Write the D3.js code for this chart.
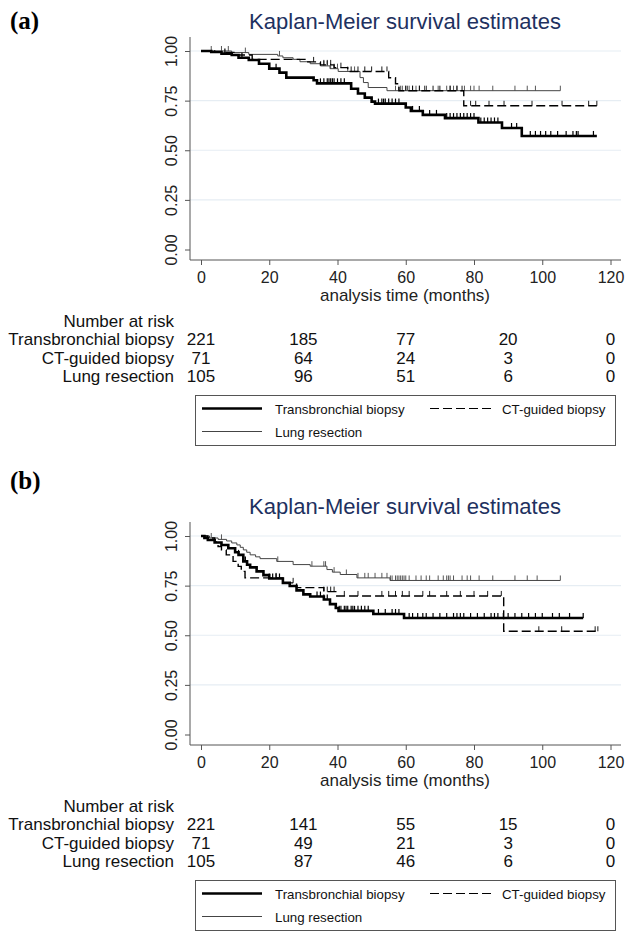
<!DOCTYPE html>
<html>
<head>
<meta charset="utf-8">
<script src="https://cdn.jsdelivr.net/npm/d3@7"></script>
<style>
  html, body { margin: 0; padding: 0; background: #fff; }
  svg { display: block; }
  text { font-family: "Liberation Sans", Arial, sans-serif; }
</style>
</head>
<body>
<script>
// ---------------- DATA ----------------
const groups = ["Transbronchial biopsy", "CT-guided biopsy", "Lung resection"];
const panelLabels = ["(a)", "(b)"];
const titleText = "Kaplan-Meier survival estimates";
const xTicks = [0, 20, 40, 60, 80, 100, 120];
const yTicks = [0, 0.25, 0.5, 0.75, 1.0];
const riskTimes = [0, 30, 60, 90, 120];

// Panel (a) step functions: [time, survival after that time]
const aTBSteps = [[0,1],[3,0.995],[6,0.987],[9,0.98],[11,0.966],[14,0.955],[17,0.936],[20,0.911],[23,0.891],[25,0.866],[33,0.853],[34,0.837],[44,0.81],[46,0.786],[48,0.765],[50,0.745],[51,0.735],[60,0.715],[61.5,0.698],[65,0.678],[71.5,0.662],[81.3,0.64],[88.2,0.612],[94,0.572]];
const aTBEnd = 116;
const aTBCensor = [7,12,22,35,36,37,37.5,38,38.5,39,40,41,42,52,53,53.5,54,55,56,57,58,62,64,67,69,72,73,74,75,76,77,78,79,80,82,83,84,85,86,87,91,92.5,96.5,98,99.5,101,102.5,104.5,107,109,110,110.5,115];

const aCTSteps = [[0,1],[4,0.993],[10,0.98],[15,0.958],[31,0.945],[35,0.93],[39,0.916],[43,0.897],[55,0.865],[57,0.835],[58,0.8],[77,0.724]];
const aCTEnd = 116;
const aCTCensor = [33,36,37,38,41,44,46,48,50,53,54.5,60,62,64,66,68,70,73,75,76.5,79,80.5,84.4,88.8,97,105.8,113.6,116];

const aLRSteps = [[0,1],[9,0.992],[14,0.983],[22.5,0.975],[24,0.966],[27,0.958],[29,0.946],[32,0.936],[35,0.925],[37.8,0.911],[40.2,0.897],[46.6,0.866],[47.6,0.841],[49,0.816],[54.5,0.8]];
const aLREnd = 105.3;
const aLRCensor = [3,6,8,13,23,36,37,38,39,40,43,45,57,58,58.5,59,60,60.5,61,62,63,64,65.5,69.5,72,73,74,75,77.2,79,80,81.5,85.5,92,95.6,98,105.3];

const aRiskTB = [221, 185, 77, 20, 0];
const aRiskCT = [71, 64, 24, 3, 0];
const aRiskLR = [105, 96, 51, 6, 0];

// Panel (b)
const bTBSteps = [[0,1],[1,0.99],[2,0.98],[4,0.967],[6,0.955],[8,0.938],[10,0.918],[11,0.905],[12.4,0.872],[13.5,0.855],[14.4,0.842],[16.3,0.822],[18.3,0.803],[20,0.786],[24,0.764],[26,0.748],[28,0.726],[30,0.706],[32,0.695],[36,0.68],[37.8,0.657],[39.5,0.637],[40.3,0.623],[50.5,0.607],[59.5,0.587]];
const bTBEnd = 112;
const bTBCensor = [11,12.5,13,20,21,22,23,34,35,36,37,40.5,41,42,42.5,43,44,44.5,45,46,47,48,49,52,54,56,57,58,61,62,63.5,65,66,68,70,72,74,75,76,77,79,81,83,85,86,87,88.6,90,92,94,96,98,100,103,105,108,112];

const bCTSteps = [[0,1],[2,0.99],[4,0.97],[5,0.947],[6,0.93],[7.4,0.905],[9.4,0.872],[10.9,0.847],[11.8,0.822],[12.9,0.789],[24,0.764],[28,0.74],[36,0.72],[39.5,0.698],[88.7,0.52]];
const bCTEnd = 116.3;
const bCTCensor = [22,27,36,37,38,39,42,46,53,55,57,59,61,65,67,72,76,80,84,88,99,105.7,115.5,116.3];

const bLRSteps = [[0,1],[2.5,0.99],[5,0.983],[7.5,0.975],[9,0.965],[10.5,0.955],[11.5,0.943],[12.4,0.93],[13.4,0.918],[14.4,0.905],[16,0.895],[17.3,0.886],[22.2,0.872],[27,0.856],[32,0.848],[36.9,0.831],[38.5,0.818],[40.8,0.806],[45.7,0.789],[55.4,0.776]];
const bLREnd = 105.3;
const bLRCensor = [3,6,22.5,32.5,36,36.5,39,42.6,46,48,49,51,53,54.5,55.5,56,57,57.5,58,58.5,59,59.5,60,61,63,64.5,66,67,69.5,71,72,72.5,73,74,76.5,78,79,81.5,85.5,92,95.6,98.5,105.3];

const bRiskTB = [221, 141, 55, 15, 0];
const bRiskCT = [71, 49, 21, 3, 0];
const bRiskLR = [105, 87, 46, 6, 0];

// ---------------- DRAWING ----------------
const W = 627, H = 932;
const svg = d3.select("body").append("svg").attr("width", W).attr("height", H);

const styles = [
  { stroke: "#000", width: 2.6, dash: null },
  { stroke: "#000", width: 1.4, dash: "9,4" },
  { stroke: "#444", width: 1.0, dash: null }
];

const panels = [
  { off: 0, labelY: 29, label: panelLabels[0],
    series: [ {steps: aTBSteps, end: aTBEnd, cens: aTBCensor},
              {steps: aCTSteps, end: aCTEnd, cens: aCTCensor},
              {steps: aLRSteps, end: aLREnd, cens: aLRCensor} ],
    risk: [aRiskTB, aRiskCT, aRiskLR] },
  { off: 485, labelY: 489, label: panelLabels[1],
    series: [ {steps: bTBSteps, end: bTBEnd, cens: bTBCensor},
              {steps: bCTSteps, end: bCTEnd, cens: bCTCensor},
              {steps: bLRSteps, end: bLREnd, cens: bLRCensor} ],
    risk: [bRiskTB, bRiskCT, bRiskLR] }
];

function survAt(steps, t) {
  let s = steps[0][1];
  for (const st of steps) { if (st[0] <= t) s = st[1]; else break; }
  return s;
}

panels.forEach(p => {
  const g = svg.append("g").attr("transform", `translate(0,${p.off})`);
  const x = d3.scaleLinear().domain([0, 120]).range([201, 610.5]);
  const y = d3.scaleLinear().domain([0, 1]).range([249.5, 51]);
  const axisX0 = 190, axisY0 = 260;

  // panel label
  svg.append("text").attr("x", 10).attr("y", p.labelY)
    .style("font-family", "'Liberation Serif', 'Times New Roman', serif")
    .style("font-weight", "bold").style("font-size", "25px").text(p.label);

  // title
  g.append("text").attr("x", 405).attr("y", 29).attr("text-anchor", "middle")
    .style("font-size", "22px").style("fill", "#1e3160").text(titleText);

  // gridlines
  g.selectAll(".grid").data(yTicks.filter(d => d > 0)).enter().append("line")
    .attr("x1", axisX0).attr("x2", 621).attr("y1", d => y(d)).attr("y2", d => y(d))
    .attr("stroke", "#e6edf3").attr("stroke-width", 1.2);

  // y axis
  const yAxis = d3.axisLeft(y).tickValues(yTicks).tickSize(5).tickFormat(d3.format(".2f"));
  const yg = g.append("g").attr("transform", `translate(${axisX0},0)`).call(yAxis);
  yg.select(".domain").attr("d", `M0,${37}V${axisY0}`).attr("stroke", "#555");
  yg.selectAll(".tick line").attr("stroke", "#555");
  yg.selectAll(".tick text")
    .attr("x", null).attr("dy", null)
    .attr("transform", "translate(-13,0) rotate(-90)")
    .attr("text-anchor", "middle")
    .style("font-size", "16px").style("fill", "#222")
    .style("font-family", "'Liberation Sans', Arial, sans-serif");

  // x axis
  const xAxis = d3.axisBottom(x).tickValues(xTicks).tickSize(5).tickFormat(d3.format("d"));
  const xg = g.append("g").attr("transform", `translate(0,${axisY0})`).call(xAxis);
  xg.select(".domain").attr("d", `M${axisX0},0H621`).attr("stroke", "#555");
  xg.selectAll(".tick line").attr("stroke", "#555");
  xg.selectAll(".tick text").attr("y", 23).attr("dy", null)
    .style("font-size", "16px").style("fill", "#222")
    .style("font-family", "'Liberation Sans', Arial, sans-serif");

  g.append("text").attr("x", 405).attr("y", 301).attr("text-anchor", "middle")
    .style("font-size", "17px").style("fill", "#222").text("analysis time (months)");

  // curves (draw lung, CT, then TB on top)
  const line = d3.line().x(d => x(d[0])).y(d => y(d[1])).curve(d3.curveStepAfter);
  [2, 1, 0].forEach(i => {
    const s = p.series[i], st = styles[i];
    const pts = s.steps.concat([[s.end, s.steps[s.steps.length - 1][1]]]);
    g.append("path").attr("d", line(pts)).attr("fill", "none")
      .attr("stroke", st.stroke).attr("stroke-width", st.width)
      .attr("stroke-dasharray", st.dash);
    g.selectAll(null).data(s.cens).enter().append("line")
      .attr("x1", d => x(d)).attr("x2", d => x(d))
      .attr("y1", d => y(survAt(s.steps, d)))
      .attr("y2", d => y(survAt(s.steps, d)) - 5)
      .attr("stroke", st.stroke).attr("stroke-width", i === 0 ? 1.2 : 0.9);
  });

  // number at risk
  g.append("text").attr("x", 174).attr("y", 327).attr("text-anchor", "end")
    .style("font-size", "17px").style("fill", "#111").text("Number at risk");
  const rowY = [345, 363.5, 382];
  groups.forEach((name, i) => {
    g.append("text").attr("x", 174).attr("y", rowY[i]).attr("text-anchor", "end")
      .style("font-size", "17px").style("fill", "#111").text(name);
    g.selectAll(null).data(riskTimes).enter().append("text")
      .attr("x", (d, j) => x(d)).attr("y", rowY[i]).attr("text-anchor", "middle")
      .style("font-size", "17px").style("fill", "#111")
      .text((d, j) => p.risk[i][j]);
  });

  // legend
  const lg = g.append("g");
  lg.append("rect").attr("x", 195.5).attr("y", 395.5).attr("width", 420).attr("height", 50)
    .attr("fill", "none").attr("stroke", "#555").attr("stroke-width", 1);
  const legItems = [
    { i: 0, x1: 202, x2: 262, ly: 408.5, tx: 275 },
    { i: 1, x1: 430, x2: 492, ly: 408.5, tx: 502 },
    { i: 2, x1: 202, x2: 262, ly: 431.5, tx: 275 }
  ];
  legItems.forEach(it => {
    const st = styles[it.i];
    lg.append("line").attr("x1", it.x1).attr("x2", it.x2).attr("y1", it.ly).attr("y2", it.ly)
      .attr("stroke", st.stroke).attr("stroke-width", it.i === 0 ? 2.4 : (it.i === 1 ? 1.2 : 1))
      .attr("stroke-dasharray", st.dash);
    lg.append("text").attr("x", it.tx).attr("y", it.ly + 5)
      .style("font-size", "13.3px").style("fill", "#111").text(groups[it.i]);
  });
});
</script>
</body>
</html>
